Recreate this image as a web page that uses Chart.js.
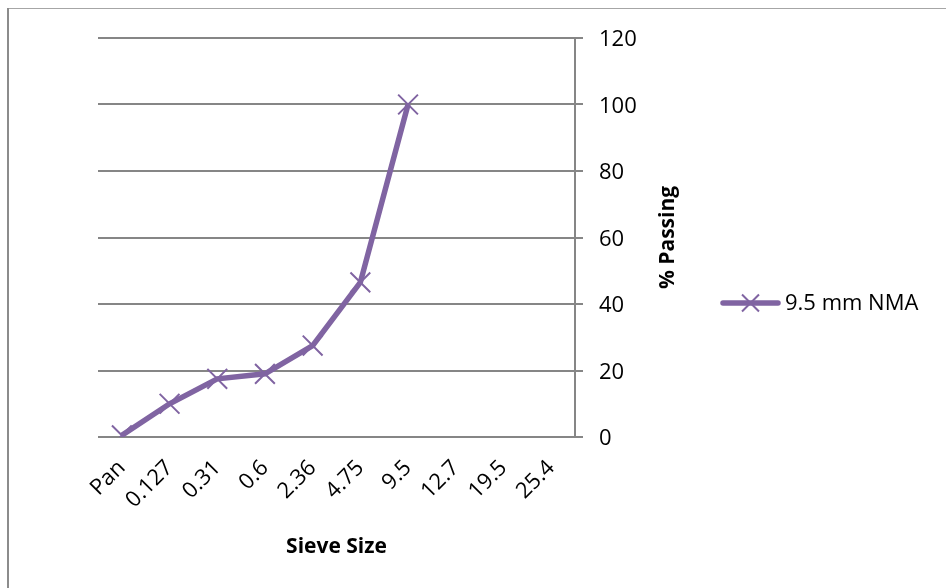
<!DOCTYPE html>
<html>
<head>
<meta charset="utf-8">
<script src="https://cdn.jsdelivr.net/npm/chart.js@4/dist/chart.umd.min.js"></script>
<style>
  html, body { margin: 0; padding: 0; background: #fff; }
  canvas { display: block; }
</style>
</head>
<body>
<canvas id="chart" width="946" height="588"></canvas>
<script>
// Sieve analysis: cumulative % passing per sieve size
const sieveSizes = ['Pan', '0.127', '0.31', '0.6', '2.36', '4.75', '9.5', '12.7', '19.5', '25.4'];
const percentPassing = [0.5, 10, 17.5, 19, 27.5, 46.5, 100, null, null, null];
const seriesName = '9.5 mm NMA';
const xAxisTitle = 'Sieve Size';
const yAxisTitle = '% Passing';
const yMin = 0;
const yMax = 120;
const yStep = 20;

const FONT = "'Open Sans', sans-serif";
const PURPLE = '#8064A2';
const GRID = '#868686';

// Plot-area placement inside the canvas
const AREA = { left: 98, top: 38, right: 575, bottom: 437 };

function drawCrossRot(ctx, x, y, r, color, width) {
  const d = r * Math.SQRT1_2;
  ctx.save();
  ctx.strokeStyle = color;
  ctx.lineWidth = width;
  ctx.beginPath();
  ctx.moveTo(x - d, y - d); ctx.lineTo(x + d, y + d);
  ctx.moveTo(x + d, y - d); ctx.lineTo(x - d, y + d);
  ctx.stroke();
  ctx.restore();
}

// White background and the thin frame along the top and left edges
const framePlugin = {
  id: 'frame',
  beforeDraw(chart) {
    const ctx = chart.ctx;
    ctx.save();
    ctx.fillStyle = '#fff';
    ctx.fillRect(0, 0, chart.width, chart.height);
    ctx.strokeStyle = '#a6a6a6';
    ctx.lineWidth = 1;
    ctx.beginPath();
    ctx.moveTo(8, 8.5); ctx.lineTo(chart.width, 8.5);
    ctx.stroke();
    ctx.strokeStyle = '#8c8c8c';
    ctx.lineWidth = 2;
    ctx.beginPath();
    ctx.moveTo(8, 8); ctx.lineTo(8, chart.height);
    ctx.stroke();
    ctx.restore();
  }
};

// Y-axis title (reads bottom-to-top) and the legend entry on the right
const sidePlugin = {
  id: 'side',
  afterDraw(chart) {
    const ctx = chart.ctx;
    const area = chart.chartArea;
    const yScale = chart.scales.y;

    ctx.save();
    ctx.font = `bold 21px ${FONT}`;
    ctx.fillStyle = '#000';
    ctx.textAlign = 'center';
    ctx.textBaseline = 'middle';
    ctx.translate(yScale.left + 93, (area.top + area.bottom) / 2);
    ctx.rotate(-Math.PI / 2);
    ctx.fillText(yAxisTitle, 0, 0);
    ctx.restore();

    const ds = chart.data.datasets[0];
    const ly = 303;
    const lx0 = 723, lx1 = 778;
    ctx.save();
    ctx.strokeStyle = ds.borderColor;
    ctx.lineWidth = ds.borderWidth;
    ctx.lineCap = 'round';
    ctx.beginPath();
    ctx.moveTo(lx0, ly); ctx.lineTo(lx1, ly);
    ctx.stroke();
    ctx.restore();
    drawCrossRot(ctx, (lx0 + lx1) / 2, ly, 12, ds.pointBorderColor, 2);

    ctx.save();
    ctx.font = `22px ${FONT}`;
    ctx.fillStyle = '#000';
    ctx.textAlign = 'left';
    ctx.textBaseline = 'middle';
    ctx.fillText(ds.label, 785, ly + 1);
    ctx.restore();
  }
};

new Chart(document.getElementById('chart'), {
  type: 'line',
  data: {
    labels: sieveSizes,
    datasets: [{
      label: seriesName,
      data: percentPassing,
      borderColor: PURPLE,
      backgroundColor: PURPLE,
      borderWidth: 5.5,
      tension: 0,
      pointStyle: 'crossRot',
      pointRadius: 14,
      pointHoverRadius: 14,
      pointBorderWidth: 2,
      pointBorderColor: PURPLE,
      spanGaps: false
    }]
  },
  options: {
    responsive: false,
    animation: false,
    devicePixelRatio: 1,
    layout: { padding: { left: AREA.left, top: AREA.top, right: 0, bottom: 0 } },
    plugins: {
      legend: { display: false },
      tooltip: { enabled: false }
    },
    scales: {
      x: {
        type: 'category',
        offset: true,
        grid: { display: false, drawTicks: false },
        border: { display: false },
        ticks: {
          color: '#000',
          font: { family: FONT, size: 22 },
          minRotation: 45,
          maxRotation: 45,
          autoSkip: false,
          padding: 18
        },
        title: {
          display: true,
          text: xAxisTitle,
          color: '#000',
          font: { family: FONT, size: 21, weight: 'bold' },
          padding: { top: 0, bottom: 28 }
        },
        afterFit(scale) { scale.height = 588 - AREA.bottom; }
      },
      y: {
        position: 'right',
        min: yMin,
        max: yMax,
        ticks: {
          stepSize: yStep,
          color: '#000',
          font: { family: FONT, size: 22 },
          padding: 16,
          labelOffset: 2
        },
        grid: { color: GRID, lineWidth: 2, tickLength: 8, drawTicks: true },
        border: { display: true, color: GRID, width: 2 },
        afterFit(scale) { scale.width = 946 - AREA.right; }
      }
    }
  },
  plugins: [framePlugin, sidePlugin]
});
</script>
</body>
</html>
